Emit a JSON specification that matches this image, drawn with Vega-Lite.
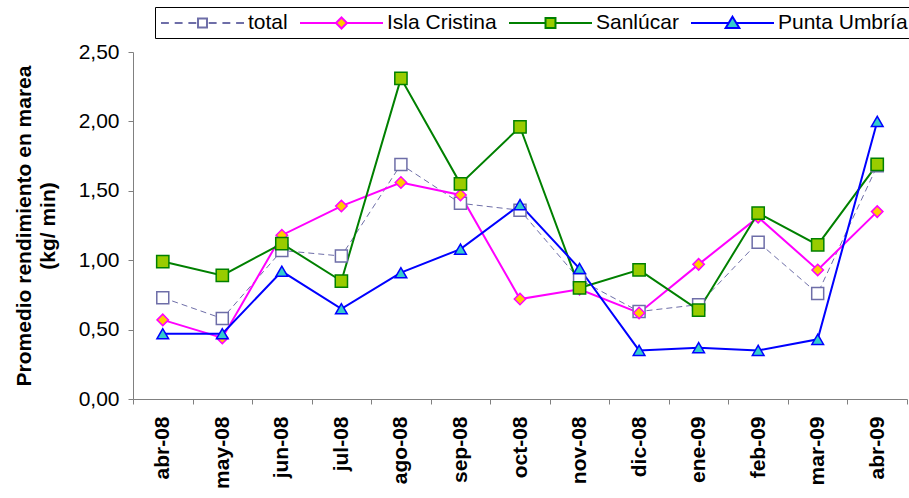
{
  "$schema": "https://vega.github.io/schema/vega-lite/v6.json",
  "width": 774,
  "height": 347,
  "autosize": "none",
  "padding": {"left": 133, "top": 52, "right": 2, "bottom": 99},
  "background": "white",
  "config": {
    "view": {"stroke": null},
    "font": "Liberation Sans",
    "axis": {"labelFont": "Liberation Sans", "titleFont": "Liberation Sans"},
    "legend": {"labelFont": "Liberation Sans"}
  },
  "data": {
    "values": [
      {"mes": "abr-08", "serie": "total", "valor": 0.73},
      {"mes": "abr-08", "serie": "Isla Cristina", "valor": 0.57},
      {"mes": "abr-08", "serie": "Sanlúcar", "valor": 0.99},
      {"mes": "abr-08", "serie": "Punta Umbría", "valor": 0.47},
      {"mes": "may-08", "serie": "total", "valor": 0.58},
      {"mes": "may-08", "serie": "Isla Cristina", "valor": 0.44},
      {"mes": "may-08", "serie": "Sanlúcar", "valor": 0.89},
      {"mes": "may-08", "serie": "Punta Umbría", "valor": 0.47},
      {"mes": "jun-08", "serie": "total", "valor": 1.07},
      {"mes": "jun-08", "serie": "Isla Cristina", "valor": 1.18},
      {"mes": "jun-08", "serie": "Sanlúcar", "valor": 1.12},
      {"mes": "jun-08", "serie": "Punta Umbría", "valor": 0.92},
      {"mes": "jul-08", "serie": "total", "valor": 1.03},
      {"mes": "jul-08", "serie": "Isla Cristina", "valor": 1.39},
      {"mes": "jul-08", "serie": "Sanlúcar", "valor": 0.85},
      {"mes": "jul-08", "serie": "Punta Umbría", "valor": 0.65},
      {"mes": "ago-08", "serie": "total", "valor": 1.69},
      {"mes": "ago-08", "serie": "Isla Cristina", "valor": 1.56},
      {"mes": "ago-08", "serie": "Sanlúcar", "valor": 2.31},
      {"mes": "ago-08", "serie": "Punta Umbría", "valor": 0.91},
      {"mes": "sep-08", "serie": "total", "valor": 1.41},
      {"mes": "sep-08", "serie": "Isla Cristina", "valor": 1.47},
      {"mes": "sep-08", "serie": "Sanlúcar", "valor": 1.55},
      {"mes": "sep-08", "serie": "Punta Umbría", "valor": 1.08},
      {"mes": "oct-08", "serie": "total", "valor": 1.36},
      {"mes": "oct-08", "serie": "Isla Cristina", "valor": 0.72},
      {"mes": "oct-08", "serie": "Sanlúcar", "valor": 1.96},
      {"mes": "oct-08", "serie": "Punta Umbría", "valor": 1.4},
      {"mes": "nov-08", "serie": "total", "valor": 0.86},
      {"mes": "nov-08", "serie": "Isla Cristina", "valor": 0.79},
      {"mes": "nov-08", "serie": "Sanlúcar", "valor": 0.8},
      {"mes": "nov-08", "serie": "Punta Umbría", "valor": 0.94},
      {"mes": "dic-08", "serie": "total", "valor": 0.63},
      {"mes": "dic-08", "serie": "Isla Cristina", "valor": 0.62},
      {"mes": "dic-08", "serie": "Sanlúcar", "valor": 0.93},
      {"mes": "dic-08", "serie": "Punta Umbría", "valor": 0.35},
      {"mes": "ene-09", "serie": "total", "valor": 0.68},
      {"mes": "ene-09", "serie": "Isla Cristina", "valor": 0.97},
      {"mes": "ene-09", "serie": "Sanlúcar", "valor": 0.64},
      {"mes": "ene-09", "serie": "Punta Umbría", "valor": 0.37},
      {"mes": "feb-09", "serie": "total", "valor": 1.13},
      {"mes": "feb-09", "serie": "Isla Cristina", "valor": 1.31},
      {"mes": "feb-09", "serie": "Sanlúcar", "valor": 1.34},
      {"mes": "feb-09", "serie": "Punta Umbría", "valor": 0.35},
      {"mes": "mar-09", "serie": "total", "valor": 0.76},
      {"mes": "mar-09", "serie": "Isla Cristina", "valor": 0.93},
      {"mes": "mar-09", "serie": "Sanlúcar", "valor": 1.11},
      {"mes": "mar-09", "serie": "Punta Umbría", "valor": 0.43},
      {"mes": "abr-09", "serie": "total", "valor": 1.68},
      {"mes": "abr-09", "serie": "Isla Cristina", "valor": 1.35},
      {"mes": "abr-09", "serie": "Sanlúcar", "valor": 1.69},
      {"mes": "abr-09", "serie": "Punta Umbría", "valor": 2.0}
    ]
  },
  "encoding": {
    "x": {
      "field": "mes",
      "type": "ordinal",
      "sort": ["abr-08", "may-08", "jun-08", "jul-08", "ago-08", "sep-08", "oct-08", "nov-08", "dic-08", "ene-09", "feb-09", "mar-09", "abr-09"],
      "scale": {"type": "band", "paddingInner": 0, "paddingOuter": 0},
      "axis": {
        "title": null,
        "labelAngle": 270,
        "labelFontSize": 21,
        "labelFontWeight": "bold",
        "labelColor": "black",
        "tickBand": "extent",
        "tickSize": 5,
        "tickColor": "#808080",
        "domainColor": "#808080",
        "labelPadding": 12,
        "grid": false
      }
    },
    "y": {
      "field": "valor",
      "type": "quantitative",
      "scale": {"domain": [0, 2.5], "nice": false},
      "axis": {
        "values": [0, 0.5, 1, 1.5, 2, 2.5],
        "labelExpr": "replace(format(datum.value, '.2f'), '.', ',')",
        "labelFontSize": 21,
        "labelColor": "black",
        "labelPadding": 9,
        "tickSize": 5,
        "tickColor": "#808080",
        "domainColor": "#808080",
        "grid": false,
        "title": ["Promedio rendimiento en marea", "(kg/ min)"],
        "titleFontSize": 21,
        "titleFontWeight": "bold",
        "titleColor": "black",
        "titleLineHeight": 24,
        "titlePadding": 20
      }
    }
  },
  "layer": [
    {
      "transform": [{"filter": "datum.serie === 'total'"}],
      "mark": {"type": "line", "strokeDash": [6, 4], "strokeWidth": 1},
      "encoding": {
        "stroke": {
          "field": "serie",
          "type": "nominal",
          "scale": {"domain": ["Punta Umbría", "Sanlúcar", "Isla Cristina", "total"], "range": ["#0000FF", "#008000", "#FF00FF", "#6E6EA8"]},
          "legend": null
        }
      }
    },
    {
      "transform": [{"filter": "datum.serie !== 'total'"}],
      "mark": {"type": "line", "strokeWidth": 2},
      "encoding": {
        "stroke": {"field": "serie", "type": "nominal", "legend": null}
      }
    },
    {
      "mark": {"type": "point", "filled": true, "opacity": 1, "strokeWidth": 1.5},
      "encoding": {
        "shape": {
          "field": "serie",
          "type": "nominal",
          "scale": {"domain": ["Sanlúcar", "total", "Punta Umbría", "Isla Cristina"], "range": ["square", "square", "triangle-up", "diamond"]},
          "legend": null
        },
        "size": {
          "field": "serie",
          "type": "nominal",
          "scale": {"domain": ["Isla Cristina", "Punta Umbría", "total", "Sanlúcar"], "range": [130, 150, 64, 81]},
          "legend": null
        },
        "stroke": {"field": "serie", "type": "nominal", "legend": null},
        "fill": {
          "field": "serie",
          "type": "nominal",
          "scale": {"domain": ["total", "Isla Cristina", "Sanlúcar", "Punta Umbría"], "range": ["#FFFFFF", "#FFCC00", "#99CC00", "#33CCCC"]},
          "legend": {
            "title": null,
            "orient": "none",
            "legendX": 22,
            "legendY": -45,
            "direction": "horizontal",
            "columns": 4,
            "symbolSize": 6889,
            "symbolStrokeWidth": 2,
            "symbolOpacity": 1,
            "labelFontSize": 21,
            "labelColor": "black",
            "labelOffset": 3,
            "labelLimit": 300,
            "columnPadding": 8,
            "padding": 5,
            "strokeColor": "black",
            "fillColor": "white",
            "cornerRadius": 0,
            "encode": {
              "symbols": {
                "update": {
                  "y": {"value": 11},
                  "shape": {"signal": "datum.value === 'total' ? 'M-1,0H-0.81M-0.67,0H-0.48M-0.34,0H-0.15M0.15,0H0.34M0.48,0H0.67M0.81,0H1M-0.108,-0.108H0.108V0.108H-0.108Z' : datum.value === 'Isla Cristina' ? 'M-1,0H-0.133M0.133,0H1M0,-0.133L0.133,0L0,0.133L-0.133,0Z' : datum.value === 'Sanlúcar' ? 'M-1,0H-0.12M0.12,0H1M-0.12,-0.12H0.12V0.12H-0.12Z' : 'M-1,0H-0.09M0.09,0H1M0,-0.15L0.165,0.12L-0.165,0.12Z'"},
                  "stroke": {"scale": "stroke", "field": "value"},
                  "opacity": {"value": 1}
                }
              },
              "labels": {
                "update": {
                  "y": {"value": 11}
                }
              }
            }
          }
        }
      }
    }
  ]
}
